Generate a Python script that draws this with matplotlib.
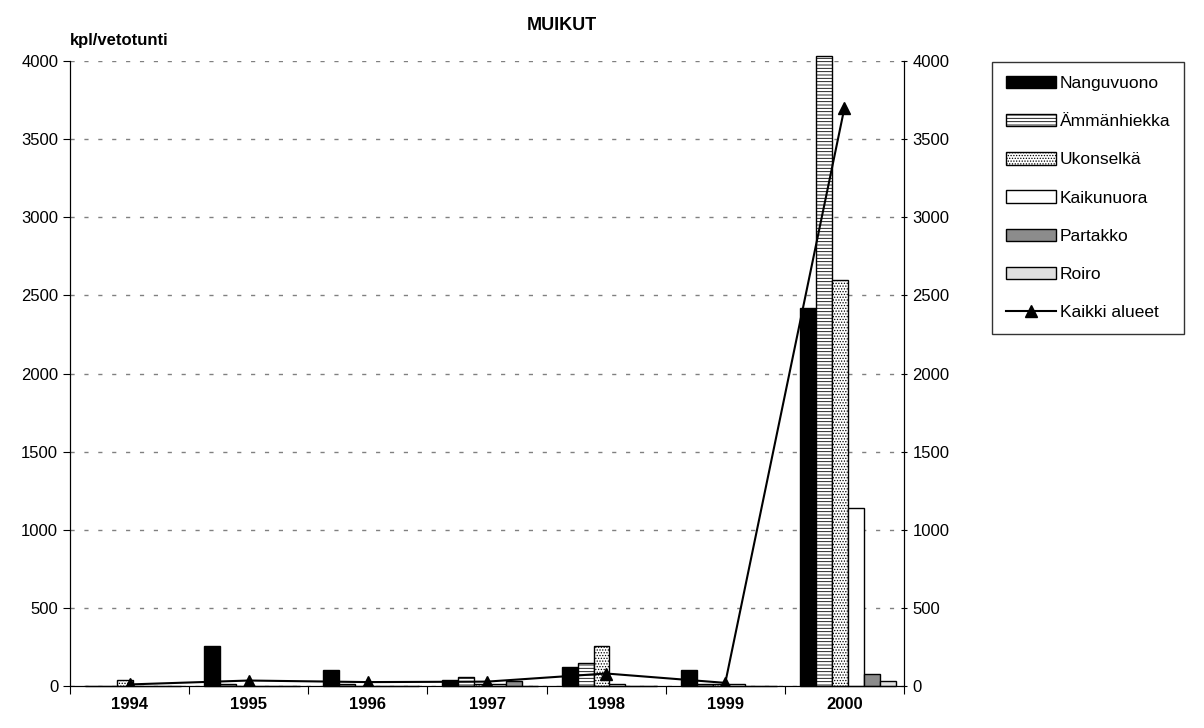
import numpy as np
import matplotlib.pyplot as plt

plt.rcParams['font.family'] = ['Liberation Sans', 'DejaVu Sans']
plt.rcParams['hatch.linewidth'] = 0.6

years = ['1994', '1995', '1996', '1997', '1998', '1999', '2000']
nanguvuono = [0, 255, 100, 40, 120, 105, 2420]
ammanhiekka = [0, 15, 15, 55, 148, 15, 4030]
ukonselka = [40, 0, 0, 12, 256, 12, 2600]
kaikunuora = [0, 0, 0, 12, 15, 15, 1140]
partakko = [0, 0, 0, 30, 0, 0, 80]
roiro = [0, 0, 0, 0, 0, 0, 30]
kaikki = [10, 35, 25, 28, 80, 20, 3700]

series = [
    ('Nanguvuono', nanguvuono, 'black', ''),
    ('Ämmänhiekka', ammanhiekka, 'white', '-----'),
    ('Ukonselkä', ukonselka, 'white', '......'),
    ('Kaikunuora', kaikunuora, 'white', ''),
    ('Partakko', partakko, '#8c8c8c', ''),
    ('Roiro', roiro, '#e0e0e0', ''),
]

fig = plt.figure(figsize=(12.04, 7.28), dpi=100)
ax = fig.add_axes([70 / 1204, 1 - 686 / 728, 834 / 1204, 625 / 728])

x = np.arange(len(years))
w = 0.134
start = x + 0.126
for i, (name, vals, col, hatch) in enumerate(series):
    ax.bar(start + i * w, vals, width=w, align='edge', color=col, edgecolor='black',
           hatch=hatch, linewidth=1.0, label=name, zorder=2, clip_on=False)

ax.plot(x + 0.5, kaikki, color='black', marker='^', markersize=9, linewidth=1.5,
        label='Kaikki alueet', zorder=3)

ax.set_xlim(0, len(years))
ax.set_ylim(0, 4000)
ax.set_yticks(np.arange(0, 4001, 500))
ax.yaxis.grid(True, linestyle=(0, (3, 7)), color='#808080', linewidth=1.0)
ax.set_axisbelow(True)
ax.set_xticks(np.arange(0, len(years) + 1))
ax.set_xticklabels([])
ax.set_xticks(x + 0.5, minor=True)
ax.set_xticklabels(years, minor=True, fontweight='bold', fontsize=12)
ax.tick_params(axis='x', which='minor', length=0, pad=8)
ax.tick_params(axis='x', which='major', length=6, direction='out')
ax.tick_params(axis='y', labelsize=12, length=5, direction='out')
ax.spines['top'].set_visible(False)

ax2 = ax.twinx()
ax2.set_ylim(0, 4000)
ax2.set_yticks(np.arange(0, 4001, 500))
ax2.tick_params(axis='y', labelsize=12, length=5, direction='inout')
ax2.spines['top'].set_visible(False)

fig.text(562 / 1204, 1 - 26 / 728, 'MUIKUT', ha='center', va='center',
         fontsize=13, fontweight='bold')
fig.text(70 / 1204, 1 - 41 / 728, 'kpl/vetotunti', ha='left', va='center',
         fontsize=12, fontweight='bold')

h, l = ax.get_legend_handles_labels()
h = h[1:] + h[:1]
l = l[1:] + l[:1]
leg = fig.legend(h, l, loc='upper left', bbox_to_anchor=(992 / 1204, 1 - 62 / 728),
                 frameon=True, fancybox=False, edgecolor='black', fontsize=12.5,
                 handlelength=2.9, handleheight=0.72, handletextpad=0.2,
                 labelspacing=1.32, borderpad=0.8, borderaxespad=0)
leg.get_frame().set_linewidth(1.0)

fig.savefig('out.png', dpi=100)
